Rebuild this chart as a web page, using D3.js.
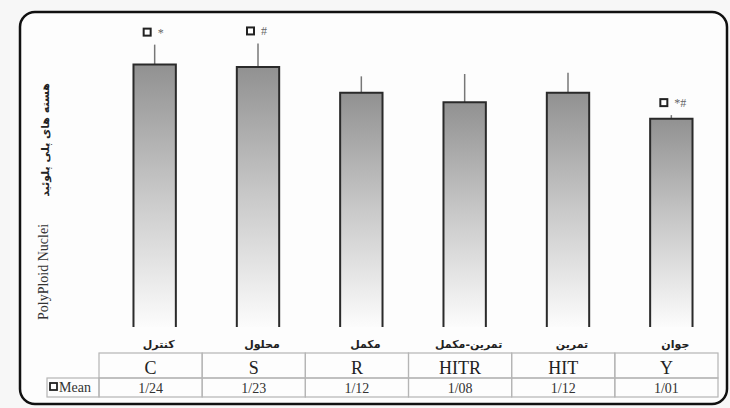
<!DOCTYPE html>
<html>
<head>
<meta charset="utf-8">
<script src="https://cdn.jsdelivr.net/npm/d3@7"></script>
<style>
  body { margin: 0; background: #f7f7f7; }
</style>
</head>
<body>
<div class="chart"></div>
<script>
const width = 730
const height = 408

const codes = ["C", "S", "R", "HITR", "HIT", "Y"]
const faLabels = ["کنترل", "محلول", "مکمل", "تمرین-مکمل", "تمرین", "جوان"]
const means = [1.24, 1.23, 1.12, 1.08, 1.12, 1.01]
const errors = [0.085, 0.1, 0.07, 0.12, 0.085, 0.015]
const marks = ["*", "#", "", "", "", "*#"]

const formatMean = d => d3.format(".2f")(d).replace(".", "/")

const svg = d3.select(".chart")
    .append("svg")
    .attr("width", width)
    .attr("height", height)

// frame
svg.append("rect")
    .attr("x", 20).attr("y", 12)
    .attr("width", 707).attr("height", 392)
    .attr("rx", 15)
    .attr("fill", "#fdfdfd")
    .attr("stroke", "#111")
    .attr("stroke-width", 2.5)

const defs = svg.append("defs")
const grad = defs.append("linearGradient")
    .attr("id", "barGrad")
    .attr("x1", 0).attr("y1", 0).attr("x2", 0).attr("y2", 1)
grad.append("stop").attr("offset", "0%").attr("stop-color", "#919191")
grad.append("stop").attr("offset", "50%").attr("stop-color", "#c9c9c9")
grad.append("stop").attr("offset", "100%").attr("stop-color", "#fcfcfc")

const xScale = d3.scaleBand()
    .domain(codes)
    .range([103, 723])
    .paddingInner(0.59)
    .paddingOuter(0.295)

const yScale = d3.scaleLinear()
    .domain([0, 1])
    .range([356, 121])

const floorY = 327

const data = codes.map((c, i) => ({
    code: c, fa: faLabels[i], mean: means[i], err: errors[i], mark: marks[i]
}))

const bars = svg.append("g").selectAll("g")
    .data(data)
    .join("g")

// error bars
bars.append("line")
    .attr("x1", d => xScale(d.code) + xScale.bandwidth() / 2)
    .attr("x2", d => xScale(d.code) + xScale.bandwidth() / 2)
    .attr("y1", d => yScale(d.mean))
    .attr("y2", d => yScale(d.mean + d.err))
    .attr("stroke", "#777")
    .attr("stroke-width", 1.5)

bars.append("rect")
    .attr("x", d => xScale(d.code))
    .attr("y", d => yScale(d.mean))
    .attr("width", xScale.bandwidth())
    .attr("height", d => floorY - yScale(d.mean))
    .attr("fill", "url(#barGrad)")

bars.append("path")
    .attr("d", d => {
        const x0 = xScale(d.code), x1 = x0 + xScale.bandwidth(), y0 = yScale(d.mean)
        return "M" + x0 + "," + floorY + "V" + y0 + "H" + x1 + "V" + floorY
    })
    .attr("fill", "none")
    .attr("stroke", "#2a2a2a")
    .attr("stroke-width", 2)

// significance markers
const marked = bars.filter(d => d.mark !== "")
marked.append("rect")
    .attr("x", d => xScale(d.code) + xScale.bandwidth() / 2 - 11)
    .attr("y", d => yScale(d.mean + d.err) - 16)
    .attr("width", 7).attr("height", 7)
    .attr("fill", "#fff")
    .attr("stroke", "#222")
    .attr("stroke-width", 2)
marked.append("text")
    .attr("x", d => xScale(d.code) + xScale.bandwidth() / 2 + 3)
    .attr("y", d => yScale(d.mean + d.err) - 8)
    .attr("font-family", "Liberation Serif")
    .attr("font-size", 12)
    .attr("fill", "#666")
    .text(d => d.mark)

// persian category labels
bars.append("text")
    .attr("x", d => xScale(d.code) + xScale.bandwidth() / 2 + 4)
    .attr("y", 348)
    .attr("text-anchor", "middle")
    .attr("font-family", "DejaVu Sans")
    .attr("font-weight", "bold")
    .attr("font-size", 11)
    .attr("fill", "#222")
    .text(d => d.fa)

// table
const tScale = d3.scaleBand().domain(codes).range([99, 718])
const table = svg.append("g")
    .attr("fill", "none")
    .attr("stroke", "#b5b5b5")
    .attr("stroke-width", 1.2)

table.selectAll(".c1")
    .data(codes)
    .join("rect")
    .attr("x", d => tScale(d))
    .attr("y", 353)
    .attr("width", tScale.bandwidth())
    .attr("height", 25)
table.selectAll(".c2")
    .data(codes)
    .join("rect")
    .attr("x", d => tScale(d))
    .attr("y", 378)
    .attr("width", tScale.bandwidth())
    .attr("height", 19)
table.append("rect")
    .attr("x", 47).attr("y", 378)
    .attr("width", 52).attr("height", 19)

svg.append("g").selectAll("text")
    .data(codes)
    .join("text")
    .attr("x", d => tScale(d) + tScale.bandwidth() / 2)
    .attr("y", 374)
    .attr("text-anchor", "middle")
    .attr("font-family", "Liberation Serif")
    .attr("font-size", 18)
    .attr("fill", "#222")
    .text(d => d)

svg.append("g").selectAll("text")
    .data(data)
    .join("text")
    .attr("x", d => tScale(d.code) + tScale.bandwidth() / 2)
    .attr("y", 393)
    .attr("text-anchor", "middle")
    .attr("font-family", "Liberation Serif")
    .attr("font-size", 14)
    .attr("fill", "#333")
    .text(d => formatMean(d.mean))

svg.append("rect")
    .attr("x", 50).attr("y", 383)
    .attr("width", 7).attr("height", 7)
    .attr("fill", "#fff")
    .attr("stroke", "#222")
    .attr("stroke-width", 1.8)
svg.append("text")
    .attr("x", 59).attr("y", 392)
    .attr("font-family", "Liberation Serif")
    .attr("font-size", 14)
    .attr("fill", "#333")
    .text("Mean")

// y axis titles
svg.append("text")
    .attr("transform", "translate(48,272) rotate(-90)")
    .attr("text-anchor", "middle")
    .attr("font-family", "Liberation Serif")
    .attr("font-size", 14)
    .attr("fill", "#333")
    .text("PolyPloid Nuclei")
svg.append("text")
    .attr("transform", "translate(49,140) rotate(-90)")
    .attr("text-anchor", "middle")
    .attr("font-family", "DejaVu Sans")
    .attr("font-weight", "bold")
    .attr("font-size", 11)
    .attr("fill", "#222")
    .text("هسته های پلی پلوئید")
</script>
</body>
</html>
